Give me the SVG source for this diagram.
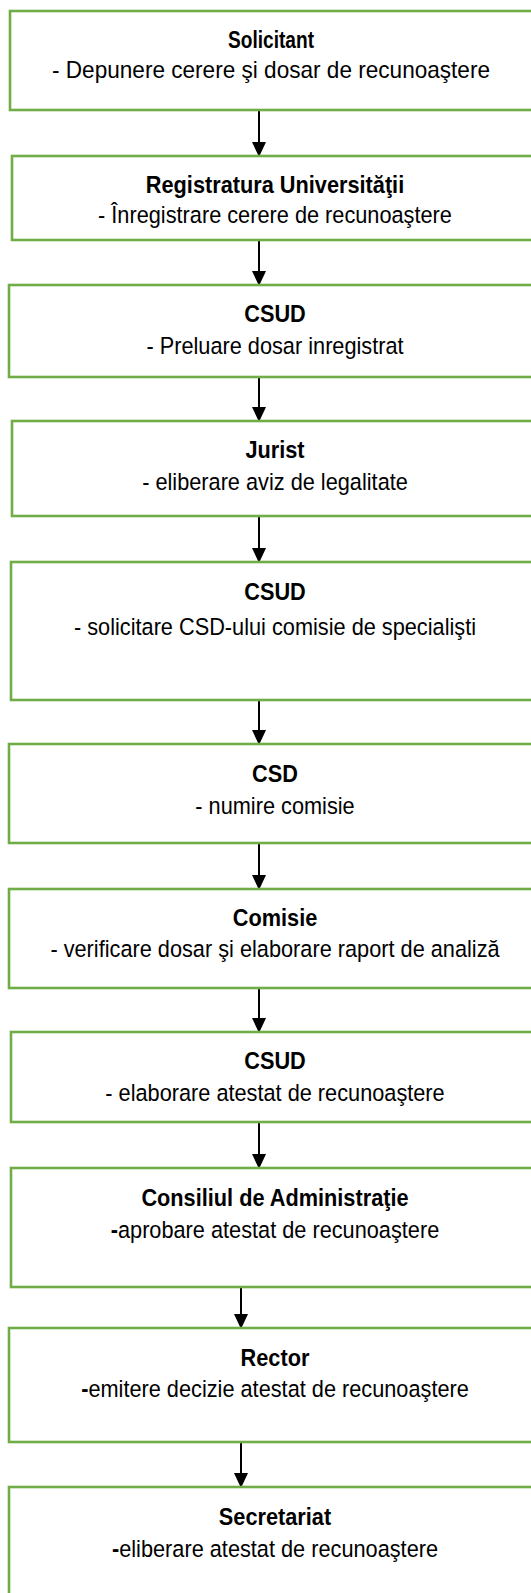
<svg xmlns="http://www.w3.org/2000/svg" width="531" height="1593" viewBox="0 0 531 1593">
<style>
.box{fill:#ffffff;stroke:#70AD47;stroke-width:2.6}
.f{font-family:"Liberation Sans",Arial,sans-serif;fill:#000;text-anchor:middle}
.t{font-size:23.5px;transform-box:fill-box;transform-origin:center;transform:scaleX(0.925)}
.s1{font-size:24px}
.b{font-weight:bold}
.c{stroke:#000;stroke-width:2;fill:none;marker-end:url(#ah)}
</style>
<defs>
<marker id="ah" markerWidth="7.5" markerHeight="7" refX="7" refY="3.5" orient="auto" markerUnits="strokeWidth" viewBox="0 0 7.5 7">
<path d="M0,0 L7.5,3.5 L0,7 Z" fill="#000"/>
</marker>
</defs>
<rect width="531" height="1593" fill="#ffffff"/>
<g id="connectors">
<line class="c" x1="259" y1="111" x2="259" y2="156"/>
<line class="c" x1="259" y1="241" x2="259" y2="285"/>
<line class="c" x1="259" y1="378" x2="259" y2="421"/>
<line class="c" x1="259" y1="517" x2="259" y2="562"/>
<line class="c" x1="259" y1="701" x2="259" y2="744"/>
<line class="c" x1="259" y1="844" x2="259" y2="889"/>
<line class="c" x1="259" y1="989" x2="259" y2="1032"/>
<line class="c" x1="259" y1="1123" x2="259" y2="1168"/>
<line class="c" x1="241" y1="1288" x2="241" y2="1328"/>
<line class="c" x1="241" y1="1443" x2="241" y2="1487"/>
</g>
<g id="n1"><rect class="box" x="10" y="11" width="560" height="99"/>
<text class="f s1 b" x="271" y="48" textLength="86" lengthAdjust="spacingAndGlyphs">Solicitant</text>
<text class="f s1" x="271" y="78" textLength="438" lengthAdjust="spacingAndGlyphs">- Depunere cerere şi dosar de recunoaştere</text></g>
<g id="n2"><rect class="box" x="12" y="156" width="560" height="84"/>
<text class="f t b" x="275" y="193">Registratura Universităţii</text>
<text class="f t" x="275" y="223">- Înregistrare cerere de recunoaştere</text></g>
<g id="n3"><rect class="box" x="9" y="285" width="560" height="92"/>
<text class="f t b" x="275" y="322">CSUD</text>
<text class="f t" x="275" y="354">- Preluare dosar inregistrat</text></g>
<g id="n4"><rect class="box" x="12" y="421" width="560" height="95"/>
<text class="f t b" x="275" y="458">Jurist</text>
<text class="f t" x="275" y="490">- eliberare aviz de legalitate</text></g>
<g id="n5"><rect class="box" x="11" y="562" width="560" height="138"/>
<text class="f t b" x="275" y="600">CSUD</text>
<text class="f t" x="275" y="635">- solicitare CSD-ului comisie de specialişti</text></g>
<g id="n6"><rect class="box" x="9" y="744" width="560" height="99"/>
<text class="f t b" x="275" y="782">CSD</text>
<text class="f t" x="275" y="814">- numire comisie</text></g>
<g id="n7"><rect class="box" x="9" y="889" width="560" height="99"/>
<text class="f t b" x="275" y="926">Comisie</text>
<text class="f t" x="275" y="957">- verificare dosar şi elaborare raport de analiză</text></g>
<g id="n8"><rect class="box" x="11" y="1032" width="560" height="90"/>
<text class="f t b" x="275" y="1069">CSUD</text>
<text class="f t" x="275" y="1101">- elaborare atestat de recunoaştere</text></g>
<g id="n9"><rect class="box" x="11" y="1168" width="560" height="119"/>
<text class="f t b" x="275" y="1206">Consiliul de Administraţie</text>
<text class="f t" x="275" y="1238"><tspan class="b">-</tspan>aprobare atestat de recunoaştere</text></g>
<g id="n10"><rect class="box" x="9" y="1328" width="560" height="114"/>
<text class="f t b" x="275" y="1366">Rector</text>
<text class="f t" x="275" y="1397"><tspan class="b">-</tspan>emitere decizie atestat de recunoaştere</text></g>
<g id="n11"><rect class="box" x="9" y="1487" width="560" height="130"/>
<text class="f t b" x="275" y="1525">Secretariat</text>
<text class="f t" x="275" y="1557"><tspan class="b">-</tspan>eliberare atestat de recunoaştere</text></g>
</svg>
